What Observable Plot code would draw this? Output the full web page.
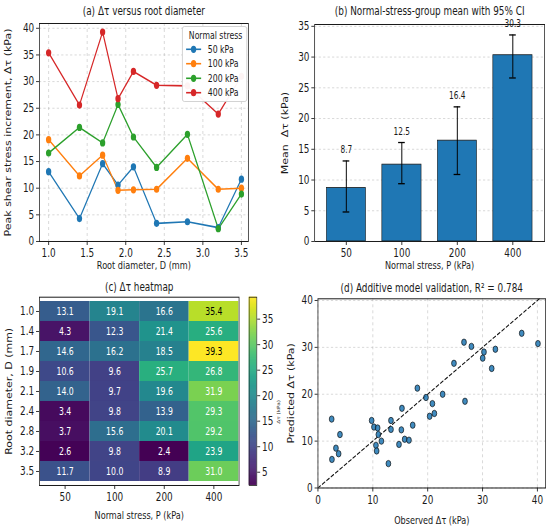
<!DOCTYPE html>
<html><head><meta charset="utf-8">
<script src="https://cdn.jsdelivr.net/npm/d3@7"></script>
<script src="https://cdn.jsdelivr.net/npm/@observablehq/plot@0.6"></script>
<style>
html,body{margin:0;padding:0;background:#fff;overflow:hidden;}
#fig{position:relative;width:744px;height:530px;transform:scaleX(0.74);transform-origin:0 0;font-family:"DejaVu Sans",sans-serif;color:#222;}
#fig svg{position:absolute;overflow:visible;max-width:none;}
#legend{position:absolute;z-index:5;background:rgba(255,255,255,0.95);border:1px solid #ccc;border-radius:3px;box-sizing:border-box;}
#legend svg{position:absolute;left:0;top:0;}
</style></head><body><div id="fig"></div>
<script>
// ---------- data ----------
const diameters = [1.0, 1.4, 1.7, 1.9, 2.1, 2.4, 2.8, 3.2, 3.5];
const diameterLabels = ["1.0","1.4","1.7","1.9","2.1","2.4","2.8","3.2","3.5"];
const stressLabels = ["50","100","200","400"];
const seriesNames = ["50 kPa","100 kPa","200 kPa","400 kPa"];
const seriesColors = ["#1f77b4","#ff7f0e","#2ca02c","#d62728"];
const stress50  = [13.1, 4.3, 14.6, 10.6, 14.0, 3.4, 3.7, 2.6, 11.7];
const stress100 = [19.1, 12.3, 16.2, 9.6, 9.7, 9.8, 15.6, 9.8, 10.0];
const stress200 = [16.6, 21.4, 18.5, 25.7, 19.6, 13.9, 20.1, 2.4, 8.9];
const stress400 = [35.4, 25.6, 39.3, 26.8, 31.9, 29.3, 29.2, 23.9, 31.0];
const groupMeans = [8.7, 12.5, 16.4, 30.3];
const ciLow  = [4.8, 9.4, 10.9, 26.6];
const ciHigh = [13.1, 16.1, 21.9, 33.6];
const observed  = [2.5, 2.55, 3.28, 3.77, 4.01, 9.79, 10.21, 10.57, 10.70, 10.88, 11.01, 11.56, 12.84, 13.31, 13.31, 14.77, 15.20, 15.31, 15.81, 16.59, 17.27, 18.12, 19.69, 20.36, 20.86, 21.22, 22.73, 24.79, 26.62, 26.80, 27.97, 30.03, 30.26, 31.67, 32.34, 37.14, 40.1];
const predicted = [14.7, 6.1, 8.5, 7.3, 11.4, 14.4, 13.0, 9.1, 7.9, 12.8, 11.4, 10.0, 5.2, 14.4, 12.5, 9.3, 12.4, 17.0, 10.4, 10.2, 13.4, 21.3, 19.3, 15.3, 18.0, 15.9, 20.0, 26.6, 31.1, 18.5, 30.2, 27.7, 29.0, 25.5, 29.6, 33.0, 30.8];
const ticksA_x = [1.0, 1.5, 2.0, 2.5, 3.0, 3.5];
const ticksA_y = [0, 5, 10, 15, 20, 25, 30, 35, 40];
const ticksB_y = [0, 5, 10, 15, 20, 25, 30, 35];
const ticksBar = [5, 10, 15, 20, 25, 30, 35];
const ticksD = [0, 10, 20, 30, 40];
const diagonal = [0, 41.5];

// ---------- layout helpers ----------
const S = 0.74;
const u = v => v / S;
const PW = u(275);
const fig = document.getElementById("fig");
function place(el, left, top) { el.style.left = u(left) + "px"; el.style.top = top + "px"; fig.appendChild(el); }
const baseStyle = {fontFamily: "DejaVu Sans, sans-serif", fontSize: "12px", color: "#1a1a1a", overflow: "visible", background: "transparent"};
const gridOpts = {stroke: "#b0b0b0", strokeOpacity: 0.7, strokeDasharray: "3,3", strokeWidth: 0.8};
const axOpts = {tickSize: 4, tickPadding: 3, label: null, fontSize: 12};
const title = (s, dy) => Plot.text([s], {text: d => d, frameAnchor: "top", dy, fontSize: 12, lineAnchor: "middle", textAnchor: "middle"});
const xlab = (s, dy) => Plot.text([s], {text: d => d, frameAnchor: "bottom", dy, fontSize: 11, lineAnchor: "middle", textAnchor: "middle"});
const ylab = (s, dx) => Plot.text([s], {text: d => d, frameAnchor: "left", dx, rotate: -90, fontSize: 11, lineAnchor: "middle", textAnchor: "middle"});

// ---------- (a) ----------
const aData = [stress50, stress100, stress200, stress400].flatMap((vals, k) => vals.map((v, i) => ({d: diameters[i], v, s: seriesNames[k]})));
const pa = Plot.plot({
  width: PW, height: 265,
  marginLeft: u(39), marginRight: PW - u(248), marginTop: 23, marginBottom: 24,
  style: baseStyle,
  x: {domain: [0.88, 3.59]},
  y: {domain: [0, 40.9]},
  color: {domain: seriesNames, range: seriesColors},
  marks: [
    Plot.gridX(ticksA_x, gridOpts),
    Plot.gridY(ticksA_y, gridOpts),
    Plot.line(aData, {x: "d", y: "v", stroke: "s", strokeWidth: 1.6}),
    Plot.dot(aData, {x: "d", y: "v", fill: "s", r: 3.6}),
    Plot.axisX({...axOpts, ticks: ticksA_x, tickFormat: d3.format(".1f")}),
    Plot.axisY({...axOpts, ticks: ticksA_y}),
    Plot.frame({stroke: "#1a1a1a"}),
    title("(a) Δτ versus root diameter", -12),
    xlab("Root diameter, D (mm)", 24),
    ylab("Peak shear stress increment, Δτ (kPa)", u(8) - u(39))
  ]
});
place(pa, 0, 0);

// legend for (a)
const lg = document.createElement("div");
lg.id = "legend";
const lgW = u(247) - u(181.7), lgH = 75.7;
lg.style.width = lgW + "px"; lg.style.height = lgH + "px";
const lsvg = d3.create("svg").attr("width", lgW).attr("height", lgH)
  .attr("font-family", "DejaVu Sans, sans-serif").attr("font-size", 10.5).attr("fill", "#1a1a1a");
lsvg.append("text").attr("x", u(214.5) - u(181.7)).attr("y", 8.5).attr("dy", "0.35em").attr("text-anchor", "middle").text("Normal stress");
const rowY = [22.3, 36.7, 51.3, 65.7];
seriesNames.forEach((n, i) => {
  lsvg.append("line").attr("x1", 4.5).attr("x2", 24.8).attr("y1", rowY[i]).attr("y2", rowY[i]).attr("stroke", seriesColors[i]).attr("stroke-width", 1.6);
  lsvg.append("circle").attr("cx", 14.6).attr("cy", rowY[i]).attr("r", 3.6).attr("fill", seriesColors[i]);
  lsvg.append("text").attr("x", 33.8).attr("y", rowY[i]).attr("dy", "0.35em").text(n);
});
lg.appendChild(lsvg.node());
place(lg, 181.7, 26);

// ---------- (b) ----------
const groupData = stressLabels.map((g, i) => ({g, mean: groupMeans[i], lo: ciLow[i], hi: ciHigh[i]}));
const pb = Plot.plot({
  width: PW, height: 265,
  marginLeft: u(314) - u(275), marginRight: PW - (u(544) - u(275)), marginTop: 24, marginBottom: 24,
  style: baseStyle,
  x: {type: "band", domain: stressLabels, paddingInner: 0.3, paddingOuter: 0.2},
  y: {domain: [0, 35.3]},
  marks: [
    Plot.gridY(ticksB_y, gridOpts),
    Plot.barY(groupData, {x: "g", y: "mean", fill: "#1f77b4", stroke: "#1a1a1a", strokeWidth: 0.8}),
    Plot.ruleX(groupData, {x: "g", y1: "lo", y2: "hi", stroke: "#000", strokeWidth: 1.3}),
    Plot.tickY(groupData, {x: "g", y: "hi", insetLeft: 22, insetRight: 22, stroke: "#000", strokeWidth: 1.3}),
    Plot.tickY(groupData, {x: "g", y: "lo", insetLeft: 22, insetRight: 22, stroke: "#000", strokeWidth: 1.3}),
    Plot.text(groupData, {x: "g", y: "hi", text: d => d.mean.toFixed(1), dy: -11, fontSize: 10}),
    Plot.axisX({...axOpts}),
    Plot.axisY({...axOpts, ticks: ticksB_y}),
    Plot.frame({stroke: "#1a1a1a"}),
    title("(b) Normal-stress-group mean with 95% CI", -13),
    xlab("Normal stress, P (kPa)", 24),
    ylab("Mean  Δτ (kPa)", u(285) - u(314))
  ]
});
place(pb, 275, 0);

// ---------- (c) ----------
const cols = [stress50, stress100, stress200, stress400];
const heatData = diameterLabels.flatMap((d, i) => stressLabels.map((p, k) => ({d, p, v: cols[k][i]})));
const colorDomain = [d3.min(heatData, d => d.v), d3.max(heatData, d => d.v)];
const pc = Plot.plot({
  width: PW, height: 265,
  marginLeft: u(39), marginRight: PW - u(238.7), marginTop: 31.7, marginBottom: 45,
  style: baseStyle,
  x: {type: "band", domain: stressLabels, padding: 0},
  y: {type: "band", domain: diameterLabels, padding: 0},
  color: {type: "linear", scheme: "viridis", domain: colorDomain},
  marks: [
    Plot.cell(heatData, {x: "p", y: "d", fill: "v", inset: 0}),
    Plot.text(heatData.filter(d => d.v <= 33), {x: "p", y: "d", text: d => d.v.toFixed(1), fill: "white", fontSize: 10.5}),
    Plot.text(heatData.filter(d => d.v > 33), {x: "p", y: "d", text: d => d.v.toFixed(1), fill: "black", fontSize: 10.5}),
    Plot.axisX({...axOpts}),
    Plot.axisY({...axOpts}),
    Plot.frame({stroke: "#1a1a1a"}),
    title("(c) Δτ heatmap", -10),
    xlab("Normal stress, P (kPa)", 30),
    ylab("Root diameter, D (mm)", u(9.3) - u(39))
  ]
});
place(pc, 0, 265);

// colorbar
const barSteps = d3.range(colorDomain[0], colorDomain[1], 0.1);
const CW = 50;
const pbar = Plot.plot({
  width: CW, height: 265,
  marginLeft: u(249) - u(240), marginRight: CW - (u(256.7) - u(240)), marginTop: 31.7, marginBottom: 45,
  style: baseStyle,
  x: {domain: [0, 1], axis: null},
  y: {domain: colorDomain},
  color: {type: "linear", scheme: "viridis", domain: colorDomain},
  marks: [
    Plot.rect(barSteps, {x1: 0, x2: 1, y1: d => d, y2: d => Math.min(d + 0.16, colorDomain[1]), fill: d => d}),
    Plot.axisY({...axOpts, anchor: "right", ticks: ticksBar}),
    Plot.frame({stroke: "#1a1a1a", strokeWidth: 0.8}),
    Plot.text(["Δτ (kPa)"], {text: d => d, frameAnchor: "right", dx: u(278.7) - u(256.7), dy: 20.5, rotate: -90, fontSize: 5.8, textAnchor: "middle", lineAnchor: "middle"})
  ]
});
place(pbar, 240, 265);

// ---------- (d) ----------
const scatter = observed.map((o, i) => ({o, p: predicted[i]}));
const pd = Plot.plot({
  width: PW, height: 265,
  marginLeft: u(317.3) - u(275), marginRight: PW - (u(545) - u(275)), marginTop: 33.3, marginBottom: 42.5,
  style: baseStyle,
  x: {domain: [0, 41.5]},
  y: {domain: [0, 40.36]},
  marks: [
    Plot.gridX(ticksD, gridOpts),
    Plot.gridY(ticksD, gridOpts),
    Plot.line(diagonal, {x: d => d, y: d => d, stroke: "#111", strokeDasharray: "4,3", strokeWidth: 1.2, clip: true}),
    Plot.dot(scatter, {x: "o", y: "p", r: 3.2, fill: "#1f77b4", fillOpacity: 0.85, stroke: "#111", strokeWidth: 0.8}),
    Plot.axisX({...axOpts, ticks: ticksD}),
    Plot.axisY({...axOpts, ticks: ticksD}),
    Plot.frame({stroke: "#1a1a1a"}),
    title("(d) Additive model validation, R² = 0.784", -10.3),
    xlab("Observed Δτ (kPa)", 32),
    ylab("Predicted Δτ (kPa)", u(290.3) - u(317.3))
  ]
});
place(pd, 275, 265);
</script></body></html>
